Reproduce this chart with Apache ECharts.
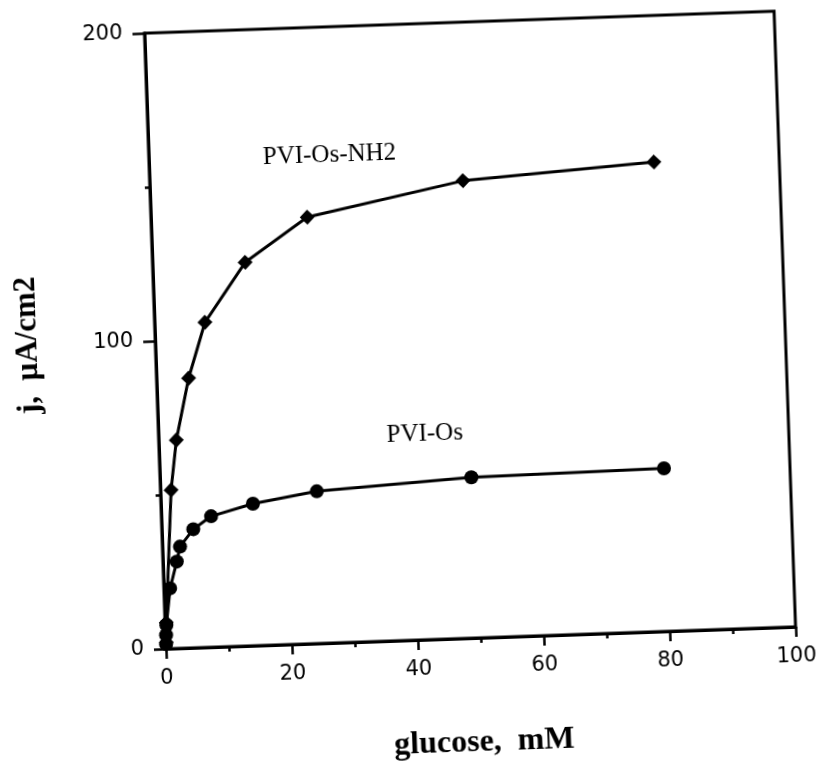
<!DOCTYPE html>
<html>
<head>
<meta charset="utf-8">
<script src="https://cdn.jsdelivr.net/npm/echarts@6/dist/echarts.min.js"></script>
<style>
  html, body { margin: 0; padding: 0; background: #fff; overflow: hidden; }
  #chart { width: 829px; height: 776px; transform: rotate(-2deg); transform-origin: 414.5px 388px; }
</style>
</head>
<body>
<div id="chart"></div>
<script>
// glucose concentration (mM) and current density (µA/cm2)
const nh2X = [0.1, 0.2, 1.7, 2.8, 5.1, 8.0, 14.7, 24.8, 49.7, 80.1];
const nh2Y = [2.0, 8.5, 51.5, 67.6, 87.6, 105.5, 124.5, 138.5, 148.5, 152.4];
const osX = [0.05, 0.1, 0.2, 1.0, 2.2, 2.8, 5.0, 7.9, 14.6, 24.8, 49.4, 80.0];
const osY = [1.5, 4.5, 7.7, 19.6, 28.2, 33.0, 38.5, 42.5, 46.1, 49.4, 52.2, 52.9];
const xTicks = [0, 20, 40, 60, 80, 100];
const yTicks = [0, 100, 200];
const seriesNames = ['PVI-Os-NH2', 'PVI-Os'];
const xTitle = 'glucose,  mM';
const yTitle = 'j,  µA/cm2';

const chart = echarts.init(document.getElementById('chart'), null, { renderer: 'canvas' });
const pair = (xs, ys) => xs.map((x, i) => [x, ys[i]]);
const tickFont = { fontFamily: 'DejaVu Sans', fontSize: 21, color: '#000' };

chart.setOption({
  animation: false,
  backgroundColor: '#fff',
  grid: { left: 157, right: 42, top: 24, bottom: 136, show: true, borderColor: '#000', borderWidth: 3, backgroundColor: 'transparent' },
  xAxis: {
    type: 'value', min: xTicks[0], max: xTicks[xTicks.length - 1], interval: 20,
    name: xTitle, nameLocation: 'middle', nameGap: 89,
    nameTextStyle: { fontFamily: 'Liberation Serif', fontWeight: 'bold', fontSize: 32, color: '#000' },
    axisLine: { show: true, lineStyle: { color: '#000', width: 3 } },
    axisTick: { show: true, length: 10, lineStyle: { color: '#000', width: 2.5 } },
    minorTick: { show: true, splitNumber: 2, length: 5, lineStyle: { color: '#000', width: 2.5 } },
    splitLine: { show: false },
    axisLabel: Object.assign({ margin: 19, formatter: v => String(v) }, tickFont)
  },
  yAxis: {
    type: 'value', min: yTicks[0], max: yTicks[yTicks.length - 1], interval: 100,
    name: yTitle, nameLocation: 'middle', nameGap: 112, nameRotate: 90,
    nameTextStyle: { fontFamily: 'Liberation Serif', fontWeight: 'bold', fontSize: 31, color: '#000' },
    axisLine: { show: true, lineStyle: { color: '#000', width: 3 } },
    axisTick: { show: true, length: 12, lineStyle: { color: '#000', width: 2.5 } },
    minorTick: { show: true, splitNumber: 2, length: 5, lineStyle: { color: '#000', width: 2.5 } },
    splitLine: { show: false },
    axisLabel: Object.assign({ margin: 22 }, tickFont)
  },
  series: [
    {
      name: seriesNames[0], type: 'line', data: pair(nh2X, nh2Y),
      symbol: 'diamond', symbolSize: 15, showAllSymbol: true,
      lineStyle: { color: '#000', width: 3 }, itemStyle: { color: '#000' }
    },
    {
      name: seriesNames[1], type: 'line', data: pair(osX, osY),
      symbol: 'circle', symbolSize: 14, showAllSymbol: true,
      lineStyle: { color: '#000', width: 3 }, itemStyle: { color: '#000' }
    }
  ],
  graphic: [
    { type: 'text', left: 271, top: 140, style: { text: seriesNames[0], font: '25px "Liberation Serif"', fill: '#000' } },
    { type: 'text', left: 385, top: 422, style: { text: seriesNames[1], font: '25px "Liberation Serif"', fill: '#000' } }
  ]
});
</script>
</body>
</html>
